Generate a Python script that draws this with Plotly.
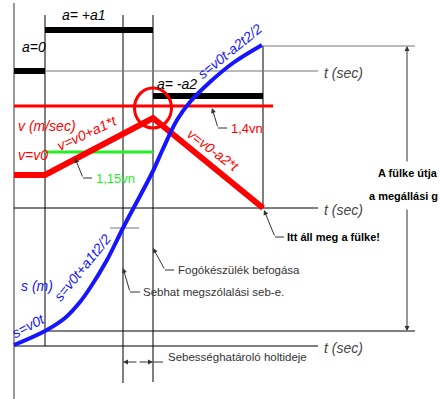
import plotly.graph_objects as go

# ---- key instants on the common time axis (diagram units) ----
t_start, t_acc, t_trip, t_catch, t_stop = 14, 45, 123, 153, 263
t_axis_end = 318
t_right = 415

# ---- acceleration panel ----
acc_axis = 71
acc_bar_t = [[t_start, t_acc], [t_acc, t_catch], [t_catch, t_stop]]
acc_bar_lv = [71, 30, 96]
acc_labels = ["a=0", "a= +a1", "a= -a2"]

# ---- velocity panel ----
vel_axis = 208
vel_t = [t_start, t_acc, t_catch, t_stop]
vel_v = [175, 175, 118, 208]
v_115 = 152
v_14 = 106

# ---- path panel ----
s_axis = 346
s_ref = 331
s_top = 46
s_t = [14, 45, 65, 80, 90, 107, 123, 153, 162, 177, 190, 210, 233, 262]
s_s = [345, 331, 318, 302, 288, 260, 228, 171, 151, 120, 102, 82, 63, 45]

FONT = "Liberation Sans Narrow, Arial Narrow, Liberation Sans, Arial"
RED, GREEN, BLUE, GREY = "#ff0000", "#22ee22", "#1515ff", "#777777"

fig = go.Figure()

def seg(xs, ys, color="black", width=1, shape="linear"):
    fig.add_trace(go.Scatter(x=xs, y=ys, mode="lines",
                             line=dict(color=color, width=width, shape=shape),
                             hoverinfo="skip", showlegend=False))

# frame / axes
seg([t_start, t_start], [3, 399], GREY, 1.5)
seg([t_acc, t_acc], [15, s_axis], "black", 1)
seg([t_trip, t_trip], [15, 383], "black", 1)
seg([t_catch, t_catch], [15, 382], "black", 1)
seg([t_stop, t_stop], [s_top, vel_axis], "black", 1)
seg([t_acc, t_axis_end], [acc_axis, acc_axis], GREY, 1.2)
seg([t_start, t_axis_end], [vel_axis, vel_axis], "black", 1)
seg([t_start, t_axis_end], [s_axis, s_axis], "black", 1)
seg([t_acc, t_right], [s_ref, s_ref], "black", 1)
seg([t_stop, t_right], [s_top, s_top], GREY, 1.2)
seg([110, 139], [228, 228], GREY, 1)

# acceleration bars
for xs, lv in zip(acc_bar_t, acc_bar_lv):
    seg(xs, [lv, lv], "black", 6)

# velocity
seg([t_start, 273], [v_14, v_14], RED, 3)
seg([t_acc, t_catch], [v_115, v_115], GREEN, 3)
seg(vel_t, vel_v, RED, 6)

# path
seg(s_t, s_s, BLUE, 4, "spline")

fig.add_shape(type="circle", x0=t_catch - 18.5, x1=t_catch + 18.5, y0=88, y1=128,
              line=dict(color=RED, width=3))

ann = []
def txt(x, y, s, color="black", size=13, italic=False, bold=False, angle=0,
        xanchor="left", bg=None):
    t = s
    if bold:
        t = "<b>" + t + "</b>"
    if italic:
        t = "<i>" + t + "</i>"
    d = dict(x=x, y=y, text=t, showarrow=False, xanchor=xanchor, yanchor="middle",
             textangle=angle, font=dict(family=FONT, size=size, color=color))
    if bg:
        d["bgcolor"] = bg
    ann.append(d)

def arrow(x, y, ax, ay, color="black", head=2):
    ann.append(dict(x=x, y=y, ax=ax, ay=ay, axref="x", ayref="y", xref="x", yref="y",
                    text="", showarrow=True, arrowhead=head, arrowsize=1,
                    arrowwidth=1, arrowcolor=color, standoff=0))

def leader(tip, bend, end):
    arrow(tip[0], tip[1], bend[0], bend[1], "#333333")
    seg([bend[0], end[0]], [bend[1], end[1]], "#333333", 1)

# labels - acceleration
txt(60, 15, acc_labels[1], italic=True, size=14)
txt(20, 47, acc_labels[0], italic=True, size=14)
txt(155, 84, acc_labels[2], italic=True, size=14)
for yy in [acc_axis, vel_axis, s_axis]:
    txt(322, yy + 2, "t (sec)", color="#444444", italic=True, size=14)

# velocity labels
txt(16, 126, "v (m/sec)", RED, 14, italic=True)
txt(16, 155, "v=v0", RED, 14, italic=True)
txt(87, 133, "v=v0+a1*t", RED, 14, italic=True, angle=-25, xanchor="center")
txt(213, 150, "v=v0-a2*t", RED, 14, italic=True, angle=37, xanchor="center")
leader((75, 158), (83, 178), (92, 178))
txt(94, 178, "1,15vn", GREEN, 13)
leader((212, 108), (218, 128), (227, 128))
txt(229, 128, "1,4vn", RED, 13)
leader((264, 210), (275, 237), (284, 237))
txt(285, 237, "Itt áll meg a fülke!", "black", 11, bold=True)

# path labels
txt(230, 51, "s=v0t-a2t2/2", BLUE, 14, italic=True, angle=-39, xanchor="center")
txt(19, 286, "s (m)", BLUE, 14, italic=True)
txt(82, 268, "s=v0t+a1t2/2", BLUE, 14, italic=True, angle=-51, xanchor="center")
txt(28, 326, "s=v0t", BLUE, 14, italic=True, angle=-28, xanchor="center")

leader((153, 248), (165, 270), (174, 270))
txt(176, 270, "Fogókészülék befogása", "#333333", 11.5)
leader((123, 268), (130, 292), (140, 292))
txt(141, 292, "Sebhat megszólalási seb-e.", "#333333", 11.5)

# dead-time dimension
arrow(t_trip, 362, 138, 362, "#333333")
arrow(t_catch, 362, 138, 362, "#333333")
seg([t_catch, 163], [362, 362], "#333333", 1)
txt(166, 357, "Sebességhatároló holtideje", "#333333", 11.5)

# stopping-path dimension
arrow(407, s_top, 407, 163, "#333333")
arrow(407, s_ref, 407, 208, "#333333")
txt(440, 173, "A fülke útja", "black", 11, bold=True, xanchor="right")
txt(440, 196, "a megállási g", "black", 11, bold=True, xanchor="right")

fig.update_layout(
    width=441, height=399, margin=dict(l=0, r=0, t=0, b=0),
    paper_bgcolor="white", plot_bgcolor="white", annotations=ann,
    xaxis=dict(range=[0, 441], visible=False, fixedrange=True),
    yaxis=dict(range=[399, 0], visible=False, fixedrange=True),
)
fig.write_html("out.html", config={"displayModeBar": False},
               post_script="document.body.style.margin='0';")
